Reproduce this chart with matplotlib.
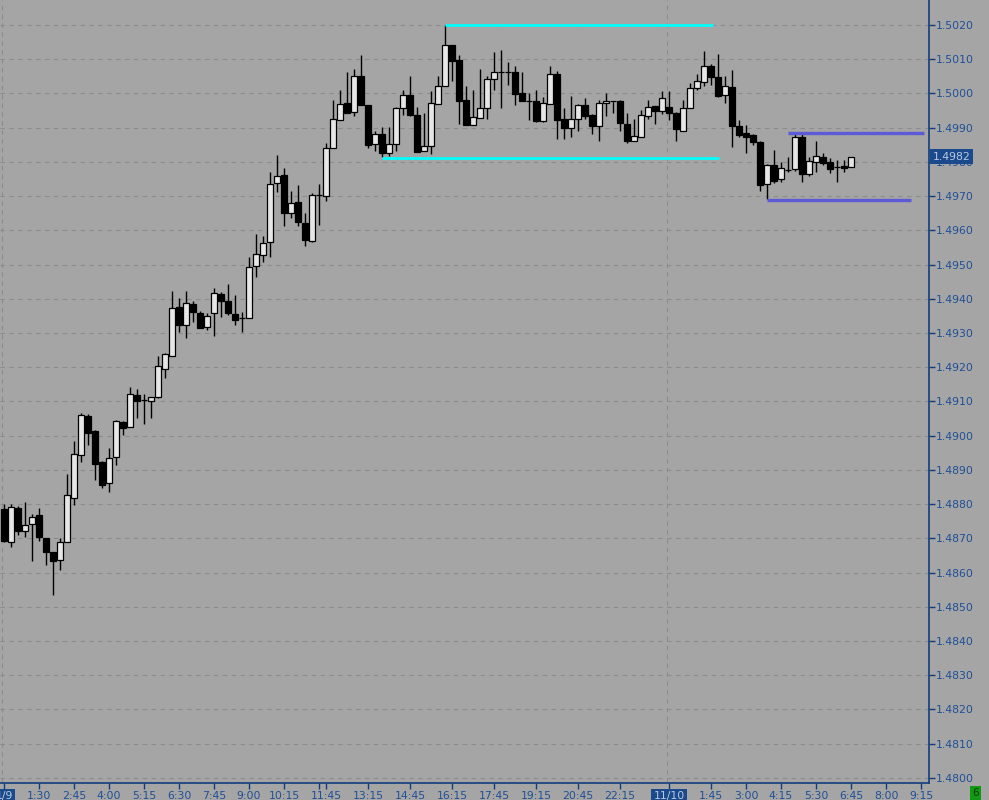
import numpy as np
import matplotlib
matplotlib.use("Agg")
import matplotlib.pyplot as plt

# 15-min EUR/USD-style bars, 11/9 0:15 -> 11/10 6:45
opens = [1.48786, 1.48690, 1.48789, 1.48722, 1.48741, 1.48768, 1.48701, 1.48660, 1.48638, 1.48690,
         1.48819, 1.48943, 1.49058, 1.49014, 1.48923, 1.48861, 1.48937, 1.49040, 1.49024, 1.49118,
         1.49104, 1.49100, 1.49114, 1.49196, 1.49234, 1.49376, 1.49324, 1.49385, 1.49359, 1.49318,
         1.49357, 1.49414, 1.49392, 1.49355, 1.49343, 1.49345, 1.49495, 1.49529, 1.49565, 1.49738,
         1.49762, 1.49650, 1.49682, 1.49621, 1.49570, 1.49704, 1.49701, 1.49841, 1.49922, 1.49971,
         1.49946, 1.50050, 1.49966, 1.49852, 1.49881, 1.49825, 1.49852, 1.49957, 1.49995, 1.49936,
         1.49832, 1.49846, 1.49970, 1.50021, 1.50142, 1.50098, 1.49981, 1.49909, 1.49929, 1.49958,
         1.50043, 1.50062, 1.50062, 1.50062, 1.50001, 1.49979, 1.49977, 1.49920, 1.49970, 1.50056,
         1.49925, 1.49900, 1.49924, 1.49965, 1.49936, 1.49905, 1.49971, 1.49977, 1.49978, 1.49911,
         1.49860, 1.49874, 1.49933, 1.49963, 1.49949, 1.49960, 1.49942, 1.49891, 1.49958, 1.50017,
         1.50033, 1.50080, 1.50048, 1.49996, 1.50019, 1.49905, 1.49884, 1.49878, 1.49858, 1.49734,
         1.49790, 1.49749, 1.49776, 1.49779, 1.49874, 1.49765, 1.49799, 1.49813, 1.49799, 1.49786,
         1.49788, 1.49784]
highs = [1.48800, 1.48800, 1.48795, 1.48806, 1.48770, 1.48789, 1.48701, 1.48660, 1.48700, 1.48888,
         1.48985, 1.49066, 1.49064, 1.49017, 1.48927, 1.48964, 1.49046, 1.49042, 1.49141, 1.49137,
         1.49122, 1.49112, 1.49233, 1.49241, 1.49423, 1.49403, 1.49423, 1.49392, 1.49363, 1.49357,
         1.49431, 1.49419, 1.49443, 1.49411, 1.49361, 1.49522, 1.49589, 1.49583, 1.49770, 1.49819,
         1.49783, 1.49715, 1.49732, 1.49651, 1.49708, 1.49735, 1.49855, 1.49980, 1.50009, 1.50062,
         1.50071, 1.50112, 1.49966, 1.49889, 1.49901, 1.49901, 1.49960, 1.50010, 1.50051, 1.49960,
         1.49943, 1.50007, 1.50051, 1.50200, 1.50142, 1.50112, 1.50022, 1.50010, 1.50071, 1.50050,
         1.50121, 1.50127, 1.50093, 1.50080, 1.50063, 1.50001, 1.50010, 1.49990, 1.50080, 1.50066,
         1.49956, 1.49993, 1.49970, 1.49986, 1.49940, 1.49981, 1.50001, 1.49977, 1.49980, 1.49943,
         1.49925, 1.49951, 1.49981, 1.49963, 1.50007, 1.50007, 1.49945, 1.49981, 1.50030, 1.50057,
         1.50124, 1.50085, 1.50115, 1.50050, 1.50068, 1.49922, 1.49907, 1.49880, 1.49860, 1.49795,
         1.49834, 1.49801, 1.49815, 1.49881, 1.49883, 1.49815, 1.49861, 1.49825, 1.49812, 1.49805,
         1.49805, 1.49815]
lows = [1.48690, 1.48676, 1.48710, 1.48705, 1.48635, 1.48693, 1.48623, 1.48535, 1.48606, 1.48690,
        1.48796, 1.48923, 1.48973, 1.48871, 1.48848, 1.48834, 1.48915, 1.49002, 1.49024, 1.49052,
        1.49034, 1.49052, 1.49109, 1.49169, 1.49234, 1.49304, 1.49285, 1.49332, 1.49316, 1.49310,
        1.49292, 1.49347, 1.49353, 1.49322, 1.49304, 1.49345, 1.49465, 1.49506, 1.49523, 1.49713,
        1.49614, 1.49635, 1.49614, 1.49555, 1.49566, 1.49615, 1.49686, 1.49841, 1.49922, 1.49944,
        1.49933, 1.49965, 1.49841, 1.49832, 1.49815, 1.49818, 1.49833, 1.49937, 1.49933, 1.49830,
        1.49832, 1.49824, 1.49970, 1.50021, 1.50036, 1.49911, 1.49908, 1.49909, 1.49927, 1.49925,
        1.50010, 1.49958, 1.50024, 1.49966, 1.49979, 1.49922, 1.49917, 1.49917, 1.49970, 1.49868,
        1.49868, 1.49873, 1.49891, 1.49925, 1.49882, 1.49862, 1.49933, 1.49943, 1.49891, 1.49856,
        1.49860, 1.49874, 1.49925, 1.49911, 1.49939, 1.49922, 1.49862, 1.49891, 1.49958, 1.50010,
        1.50023, 1.50025, 1.49990, 1.49973, 1.49844, 1.49873, 1.49825, 1.49848, 1.49716, 1.49692,
        1.49737, 1.49740, 1.49770, 1.49773, 1.49742, 1.49760, 1.49771, 1.49790, 1.49768, 1.49742,
        1.49771, 1.49784]
closes = [1.48693, 1.48791, 1.48720, 1.48738, 1.48762, 1.48703, 1.48661, 1.48635, 1.48689, 1.48827,
          1.48946, 1.49061, 1.49009, 1.48918, 1.48857, 1.48934, 1.49043, 1.49021, 1.49121, 1.49102,
          1.49104, 1.49112, 1.49203, 1.49238, 1.49372, 1.49323, 1.49387, 1.49360, 1.49316, 1.49351,
          1.49416, 1.49392, 1.49357, 1.49339, 1.49343, 1.49492, 1.49530, 1.49562, 1.49735, 1.49759,
          1.49650, 1.49679, 1.49623, 1.49572, 1.49702, 1.49704, 1.49840, 1.49924, 1.49968, 1.49944,
          1.50050, 1.49965, 1.49849, 1.49881, 1.49825, 1.49852, 1.49957, 1.49995, 1.49936, 1.49830,
          1.49847, 1.49971, 1.50021, 1.50142, 1.50096, 1.49979, 1.49908, 1.49930, 1.49958, 1.50043,
          1.50062, 1.50062, 1.50062, 1.49999, 1.49979, 1.49979, 1.49920, 1.49971, 1.50056, 1.49922,
          1.49900, 1.49925, 1.49965, 1.49935, 1.49905, 1.49971, 1.49977, 1.49977, 1.49913, 1.49862,
          1.49875, 1.49936, 1.49960, 1.49949, 1.49986, 1.49944, 1.49897, 1.49956, 1.50015, 1.50036,
          1.50080, 1.50049, 1.49993, 1.50021, 1.49905, 1.49878, 1.49873, 1.49859, 1.49731, 1.49791,
          1.49743, 1.49781, 1.49776, 1.49872, 1.49766, 1.49803, 1.49817, 1.49796, 1.49780, 1.49786,
          1.49781, 1.49815]
last_label = "1.4982"

# x tick labels (bar index, text)
tick_pos = [0, 5, 10, 15, 20, 25, 30, 35, 40, 46, 52, 58, 64, 70, 76, 82, 88,
            95, 101, 106, 111, 116, 121, 126, 131]
tick_txt = ["1/9", "1:30", "2:45", "4:00", "5:15", "6:30", "7:45", "9:00", "10:15", "11:45",
            "13:15", "14:45", "16:15", "17:45", "19:15", "20:45", "22:15",
            "11/10", "1:45", "3:00", "4:15", "5:30", "6:45", "8:00", "9:15"]
date_ticks = ["1/9", "11/10"]

# drawn levels: start bar, end bar, price
cyan_start = [63.0, 54.0]
cyan_end = [101.3, 102.1]
cyan_price = [1.50200, 1.49812]
blue_start = [112.0, 109.0]
blue_end = [131.4, 129.6]
blue_price = [1.49883, 1.49689]

BG = "#a5a5a5"
AXC = "#123d7a"
TXT = "#1f4f96"

o = np.array(opens); h = np.array(highs); l = np.array(lows); c = np.array(closes)
x = np.arange(len(o))

fig = plt.figure(figsize=(9.89, 8.0), dpi=100, facecolor=BG)
ax = fig.add_axes([0, 1 - 783 / 800, 929 / 989, 783 / 800])
ax.set_facecolor(BG)
ax.set_xlim(-0.571, 132.14)
ax.set_ylim(1.47985, 1.50273)

# grid
for p in np.arange(1.4800, 1.50201, 0.001):
    ax.axhline(p, color="#8c8c8c", lw=0.8, ls=(0, (4, 4)), zorder=0)
for d in [-0.35, 94.65]:
    ax.axvline(d, color="#8c8c8c", lw=0.8, ls=(0, (4, 4)), zorder=0)

# candles
ax.vlines(x, l, h, color="black", lw=1.0, zorder=2)
up = c > o
bottoms = np.minimum(o, c)
heights = np.maximum(np.abs(c - o), 0.000002)
ax.bar(x, heights, bottom=bottoms, width=0.72,
       color=np.where(up, "#e6e6e6", "black"), edgecolor="black", lw=0.9, zorder=3)

for s, e, p in zip(cyan_start, cyan_end, cyan_price):
    ax.hlines(p, s, e, color="#00ffff", lw=2.0, zorder=4)
for s, e, p in zip(blue_start, blue_end, blue_price):
    ax.hlines(p, s, e, color="#5c5ad6", lw=2.4, zorder=4)

# axes styling
for sp in ["left", "top"]:
    ax.spines[sp].set_visible(False)
ax.spines["right"].set_color(AXC)
ax.spines["bottom"].set_color(AXC)
ax.spines["right"].set_linewidth(1.2)
ax.spines["bottom"].set_linewidth(1.2)

ax.yaxis.tick_right()
yt = np.round(np.arange(1.4800, 1.50201, 0.001), 4)
ax.set_yticks(yt)
ax.set_yticklabels(["%.4f" % v for v in yt])
ax.tick_params(axis="y", direction="out", length=4, width=1, color=AXC,
               labelcolor=TXT, labelsize=7.8, pad=1)
ax.set_xticks(tick_pos)
ax.set_xticklabels(tick_txt)
ax.set_xticks([45], minor=True)
ax.tick_params(axis="x", which="both", direction="out", length=4, width=1, color=AXC,
               labelcolor=TXT, labelsize=7.8, pad=2)
for lab in ax.get_xticklabels():
    if lab.get_text() in date_ticks:
        lab.set_color("#b8c8e0")
        lab.set_bbox(dict(facecolor="#1a4a8c", edgecolor="none", pad=1.5))

ax.text(1.004, c[-1], last_label, transform=ax.get_yaxis_transform(), ha="left", va="center",
        fontsize=7.8, color="#b8c8e0", clip_on=False, zorder=10,
        bbox=dict(facecolor="#1a4a8c", edgecolor="none", pad=1.6))

fig.text(0.9865, 0.0085, "6", ha="center", va="center", fontsize=7.5, color="#0a3a0a",
         bbox=dict(facecolor="#119911", edgecolor="none", pad=1.6))

fig.savefig("out.png", dpi=100, facecolor=BG)
